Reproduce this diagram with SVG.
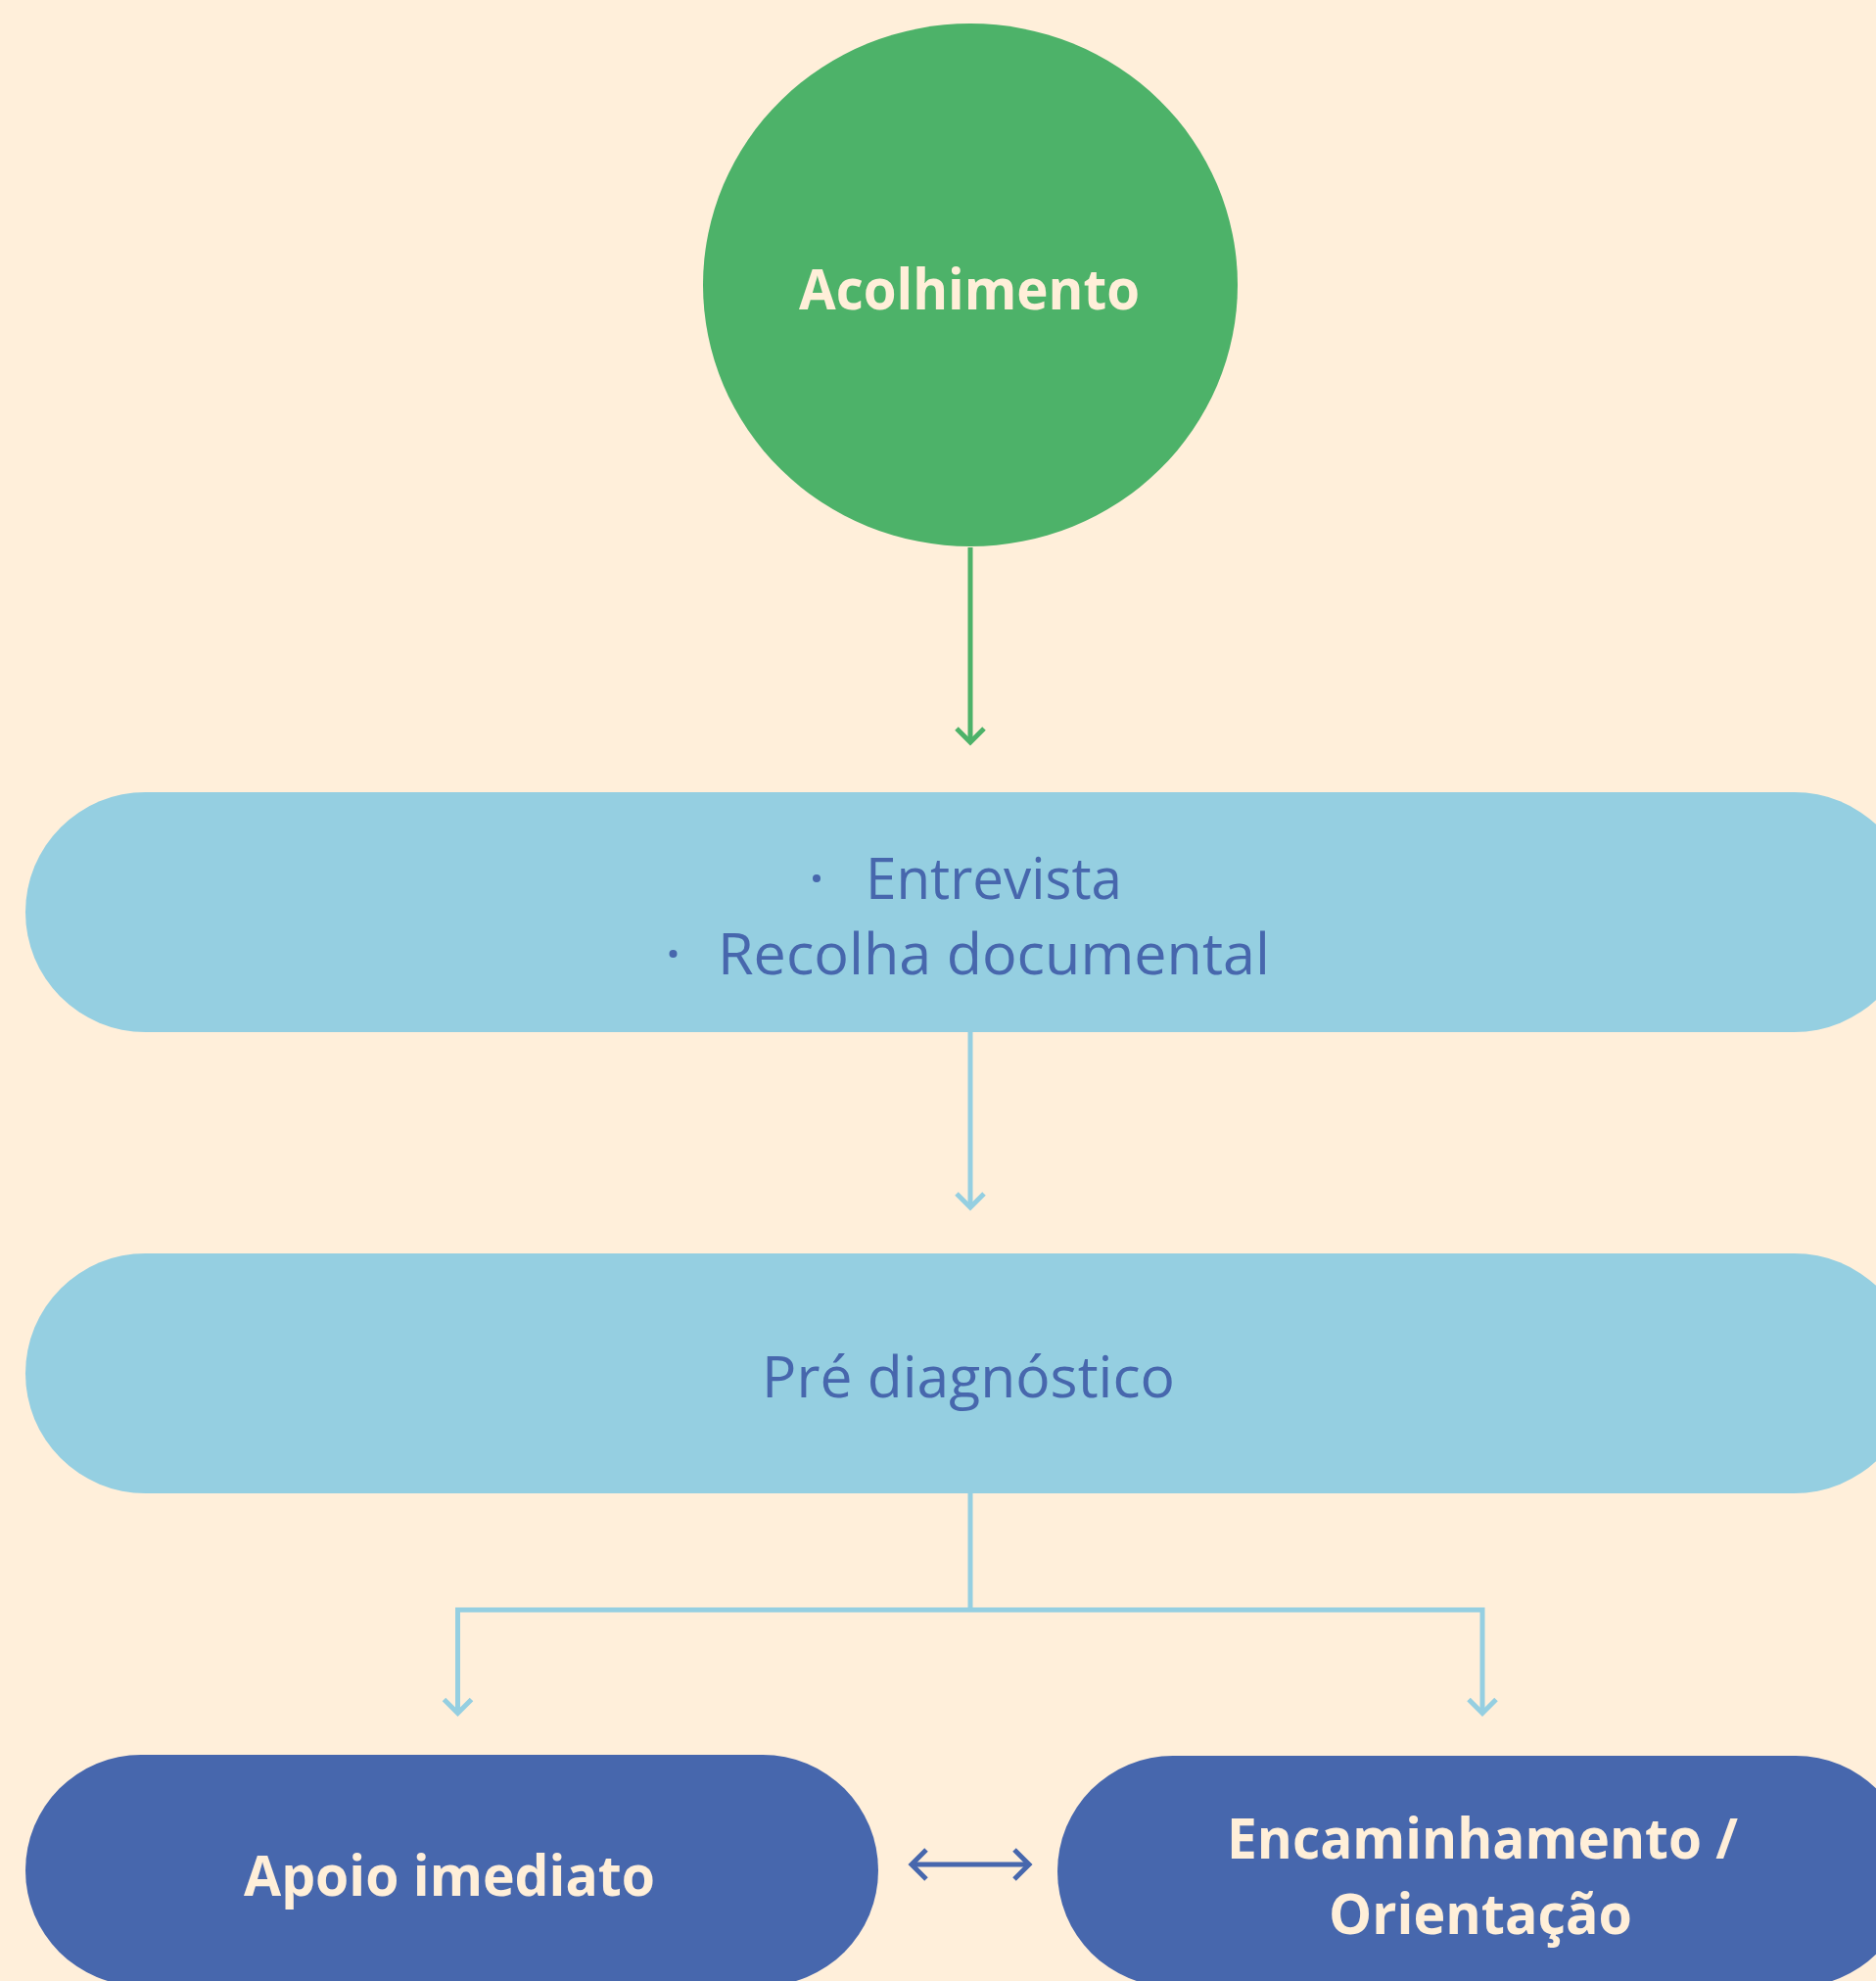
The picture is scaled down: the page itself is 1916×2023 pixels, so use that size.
<svg xmlns="http://www.w3.org/2000/svg" width="1916" height="2023" viewBox="0 0 1916 2023">
  <style>
    .bold { font-family: "Open Sans", Lato, "Liberation Sans", sans-serif; font-weight: 700; font-size: 58px; fill: #FFEFD9; text-anchor: middle; }
    .reg { font-family: "Open Sans", Lato, "Liberation Sans", sans-serif; font-weight: 400; font-size: 58px; fill: #4767AD; text-anchor: middle; }
    .pill-light { fill: #95CFE1; }
    .pill-dark { fill: #4767AD; }
    .conn { fill: none; stroke-width: 5; stroke-linejoin: miter; }
  </style>
  <defs>
    <marker id="chevGreen" markerUnits="userSpaceOnUse" viewBox="-20 -20 40 40" markerWidth="40" markerHeight="40" refX="0" refY="0" orient="auto" overflow="visible">
      <path d="M-14,-14 L0,0 L-14,14" fill="none" stroke="#4DB269" stroke-width="5"/>
    </marker>
    <marker id="chevLight" markerUnits="userSpaceOnUse" viewBox="-20 -20 40 40" markerWidth="40" markerHeight="40" refX="0" refY="0" orient="auto" overflow="visible">
      <path d="M-14,-14 L0,0 L-14,14" fill="none" stroke="#95CFE1" stroke-width="5"/>
    </marker>
    <marker id="chevDark" markerUnits="userSpaceOnUse" viewBox="-20 -20 40 40" markerWidth="40" markerHeight="40" refX="0" refY="0" orient="auto-start-reverse" overflow="visible">
      <path d="M-15,-15 L0,0 L-15,15" fill="none" stroke="#4767AD" stroke-width="5"/>
    </marker>
  </defs>

  <rect x="0" y="0" width="1916" height="2023" fill="#FFEFDA"/>

  <g id="connectors">
    <path class="conn" stroke="#4DB269" d="M991,559 V758" marker-end="url(#chevGreen)"/>
    <path class="conn" stroke="#95CFE1" d="M991,1054 V1233" marker-end="url(#chevLight)"/>
    <path class="conn" stroke="#95CFE1" d="M991,1525 V1644"/>
    <path class="conn" stroke="#95CFE1" d="M991,1644 H467.5 V1749.5" marker-end="url(#chevLight)"/>
    <path class="conn" stroke="#95CFE1" d="M991,1644 H1514 V1749.5" marker-end="url(#chevLight)"/>
    <path class="conn" stroke="#4767AD" d="M931,1904 H1051" marker-start="url(#chevDark)" marker-end="url(#chevDark)"/>
  </g>

  <g id="node-acolhimento">
    <ellipse cx="991" cy="291" rx="273" ry="267" fill="#4DB269"/>
    <text class="bold" x="990" y="316" textLength="348" lengthAdjust="spacingAndGlyphs">Acolhimento</text>
  </g>

  <g id="node-entrevista">
    <rect class="pill-light" x="26" y="809" width="1929" height="245" rx="122.5" ry="122.5"/>
    <circle cx="834" cy="897" r="4" fill="#4767AD"/>
    <text class="reg" x="1015" y="918" textLength="262" lengthAdjust="spacingAndGlyphs">Entrevista</text>
    <circle cx="687.5" cy="974" r="4" fill="#4767AD"/>
    <text class="reg" x="1015" y="995" textLength="564" lengthAdjust="spacingAndGlyphs">Recolha documental</text>
  </g>

  <g id="node-prediagnostico">
    <rect class="pill-light" x="26" y="1280" width="1929" height="245" rx="122.5" ry="122.5"/>
    <text class="reg" x="989" y="1427" textLength="422" lengthAdjust="spacingAndGlyphs">Pré diagnóstico</text>
  </g>

  <g id="node-apoio">
    <rect class="pill-dark" x="26" y="1792" width="871" height="236" rx="118" ry="118"/>
    <text class="bold" x="459" y="1936" textLength="420" lengthAdjust="spacingAndGlyphs">Apoio imediato</text>
  </g>

  <g id="node-encaminhamento">
    <rect class="pill-dark" x="1080" y="1793" width="872" height="236" rx="118" ry="118"/>
    <text class="bold" x="1514" y="1898" textLength="522" lengthAdjust="spacingAndGlyphs">Encaminhamento /</text>
    <text class="bold" x="1512" y="1975" textLength="310" lengthAdjust="spacingAndGlyphs">Orientação</text>
  </g>
</svg>
